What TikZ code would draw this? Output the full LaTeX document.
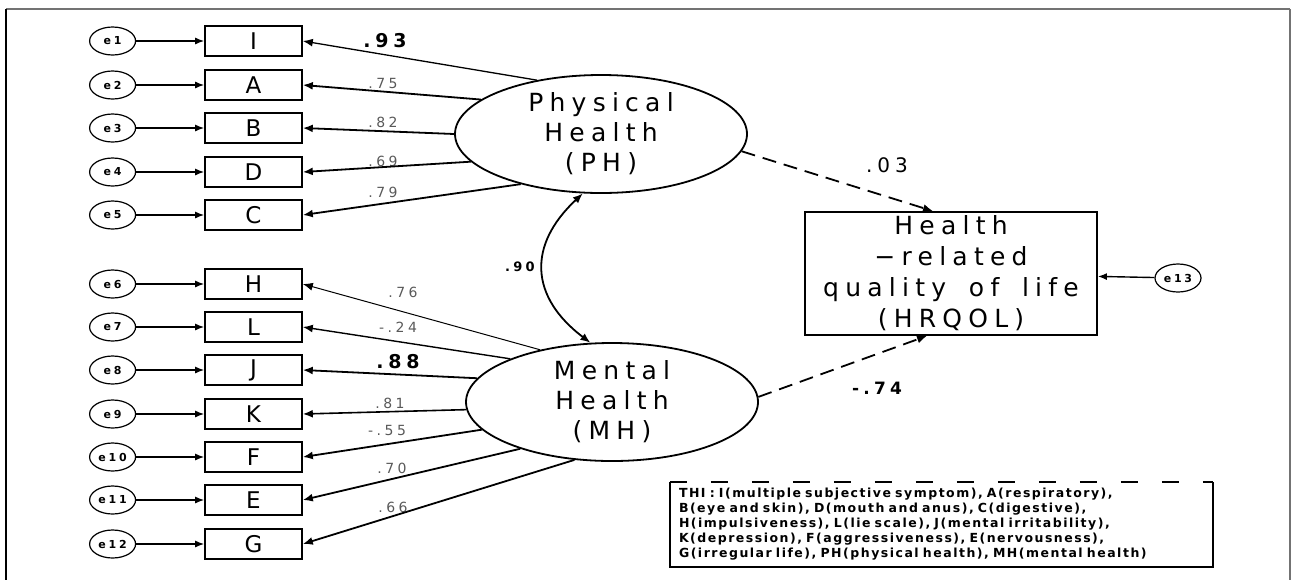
\documentclass[tikz,border=0pt]{standalone}
\usepackage{fontspec}
\setmainfont{DejaVu Sans}[LetterSpace=25, WordSpace=1.6]
\newfontfamily\keyfont{DejaVu Sans}[LetterSpace=12, WordSpace=2.2]
\usetikzlibrary{positioning, shapes.geometric, arrows.meta}
\tikzstyle{arrow} = [line width=1.8pt,-{Latex[length=10pt,width=8pt]}]

\begin{document}
\begin{tikzpicture}[
        x=1pt, y=-1pt,
        every node/.style={font=\fontsize{23}{25}\selectfont},
        item/.style={rectangle, draw=black, line width=1.6pt, minimum width=97pt, minimum height=30pt, inner sep=0pt},
        latent/.style={ellipse, draw=black, line width=1.8pt, minimum width=292pt, minimum height=118pt, inner sep=-12pt, align=center, font=\fontsize{25}{30}\selectfont},
        err/.style={ellipse, draw=black, line width=1.2pt, minimum width=46pt, minimum height=28pt, inner sep=0pt, font=\bfseries\fontsize{11}{11}\selectfont},
        outcome/.style={rectangle, draw=black, line width=1.8pt, minimum width=292pt, minimum height=123pt, inner sep=0pt, align=center, font=\fontsize{25}{31}\selectfont},
        coef/.style={text=black!65, inner sep=0pt, font=\fontsize{14}{14}\selectfont},
        errarrow/.style={line width=1.4pt,-{Latex[length=9pt,width=7pt]}},
        dasharrow/.style={arrow, dash pattern=on 14pt off 8pt},
        biarrow/.style={line width=1.8pt,{Latex[length=10pt,width=8pt]}-{Latex[length=10pt,width=8pt]}}
    ]
    \useasboundingbox (0,0) rectangle (1292,579);

    % Frame
    \draw[black!55, line width=1.5pt] (6,9) -- (1290,9);
    \draw[black, line width=1.2pt] (6,9) -- (6,585);
    \draw[black!55, line width=1.5pt] (1290,9) -- (1290,585);

    % Nodes
    \node[latent] (PH) at (601,134) {Physical\\Health\\(PH)};
    \node[latent] (MH) at (612,402) {Mental\\Health\\(MH)};
    \node[outcome] (QOL) at (951,273.5) {Health\\−related\\quality of life\\(HRQOL)};
    \node[err] (e13) at (1178,278) {e13};

    \node[item] (I) at (253.5,41) {I};
    \node[item] (A) at (253.5,85) {A};
    \node[item] (B) at (253.5,128) {B};
    \node[item] (D) at (253.5,172) {D};
    \node[item] (C) at (253.5,215) {C};
    \node[item] (H) at (253.5,284) {H};
    \node[item] (L) at (253.5,327) {L};
    \node[item] (J) at (253.5,370) {J};
    \node[item] (K) at (253.5,414) {K};
    \node[item] (F) at (253.5,457) {F};
    \node[item] (E) at (253.5,500) {E};
    \node[item] (G) at (253.5,544) {G};

    \node[err, left=68pt of I] (e1) {e1};
    \node[err, left=68pt of A] (e2) {e2};
    \node[err, left=68pt of B] (e3) {e3};
    \node[err, left=68pt of D] (e4) {e4};
    \node[err, left=68pt of C] (e5) {e5};
    \node[err, left=68pt of H] (e6) {e6};
    \node[err, left=68pt of L] (e7) {e7};
    \node[err, left=68pt of J] (e8) {e8};
    \node[err, left=68pt of K] (e9) {e9};
    \node[err, left=68pt of F] (e10) {e10};
    \node[err, left=68pt of E] (e11) {e11};
    \node[err, left=68pt of G] (e12) {e12};

    % Loadings
    \node[inner sep=0pt, font=\bfseries\fontsize{19}{19}\selectfont] (lI) at (385,41) {.93};
    \node[coef] (lA) at (383,83) {.75};
    \node[coef] (lB) at (383,122) {.82};
    \node[coef] (lD) at (383,161) {.69};
    \node[coef] (lC) at (383,192) {.79};
    \node[coef] (lH) at (403,292) {.76};
    \node[coef] (lL) at (398,327) {-.24};
    \node[inner sep=0pt, font=\bfseries\fontsize{19}{19}\selectfont] (lJ) at (398,362) {.88};
    \node[coef] (lK) at (390,403) {.81};
    \node[coef] (lF) at (387,430) {-.55};
    \node[coef] (lE) at (392,468) {.70};
    \node[coef] (lG) at (393,507) {.66};
    \node[inner sep=0pt, font=\bfseries\fontsize{13}{13}\selectfont] (lcov) at (520,267) {.90};
    \node[inner sep=0pt, font=\fontsize{20}{20}\selectfont] (lPQ) at (887,165) {.03};
    \node[inner sep=0pt, font=\bfseries\fontsize{17}{17}\selectfont] (lMQ) at (877,388) {-.74};

    % Legend
    \node[minimum width=543pt, minimum height=85pt, inner xsep=9pt, align=left, text width=525pt,
          font=\keyfont\bfseries\fontsize{12.5}{15}\selectfont] (key) at (941.5,524.5)
        {THI : I(multiple subjective symptom), A(respiratory),\\
         B(eye and skin), D(mouth and anus), C(digestive),\\
         H(impulsiveness), L(lie scale), J(mental irritability),\\
         K(depression), F(aggressiveness), E(nervousness),\\
         G(irregular life), PH(physical health), MH(mental health)};
    \draw[line width=2.5pt] (key.north west) -- (key.south west) -- (key.south east) -- (key.north east);
    \draw[line width=2.5pt, dash pattern=on 17pt off 24pt] (key.north west) -- (key.north east);

    % Arrows
    \draw[errarrow] (e1) -- (I);
    \draw[errarrow] (e2) -- (A);
    \draw[errarrow] (e3) -- (B);
    \draw[errarrow] (e4) -- (D);
    \draw[errarrow] (e5) -- (C);
    \draw[errarrow] (e6) -- (H);
    \draw[errarrow] (e7) -- (L);
    \draw[errarrow] (e8) -- (J);
    \draw[errarrow] (e9) -- (K);
    \draw[errarrow] (e10) -- (F);
    \draw[errarrow] (e11) -- (E);
    \draw[errarrow] (e12) -- (G);
    \draw[errarrow] (e13) -- (QOL);

    \draw[arrow, line width=1.3pt] (PH.140) -- (I.east);
    \draw[arrow] (PH.164) -- (A.east);
    \draw[arrow] (PH.180) -- (B.east);
    \draw[arrow] (PH.192) -- (D.east);
    \draw[arrow] (PH.212) -- (C.east);

    \draw[arrow, line width=1pt] (MH.144) -- (H.east);
    \draw[arrow, line width=1.4pt] (MH.157) -- (L.east);
    \draw[arrow] (MH.170) -- (J.east);
    \draw[arrow, line width=1.6pt] (MH.183) -- (K.east);
    \draw[arrow] (MH.192) -- (F.east);
    \draw[arrow] (MH.207) -- (E.east);
    \draw[arrow] (MH.237) -- (G.east);

    \draw[biarrow] (PH.253) to[bend right=50, looseness=1.3] (MH.110);

    \draw[dasharrow] (PH.-7) -- ([xshift=-18pt]QOL.north);
    \draw[dasharrow] (MH.2) -- ([xshift=-24pt]QOL.south);

\end{tikzpicture}
\end{document}
